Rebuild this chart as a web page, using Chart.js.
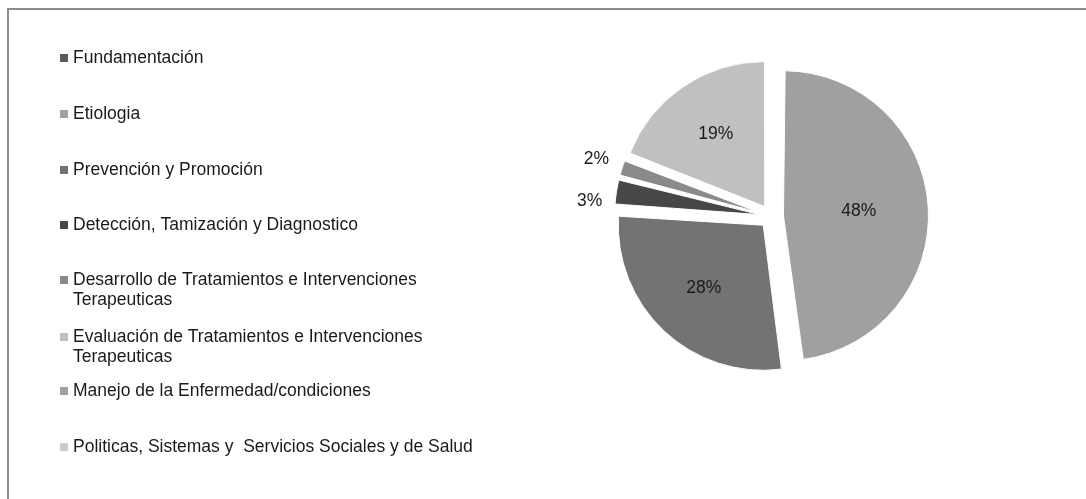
<!DOCTYPE html>
<html>
<head>
<meta charset="utf-8">
<script src="https://cdn.jsdelivr.net/npm/chart.js@4/dist/chart.umd.min.js"></script>
<style>
  html, body { margin: 0; padding: 0; background: #fff; }
  #wrap { position: relative; width: 1086px; height: 499px; }
</style>
</head>
<body>
<div id="wrap"><canvas id="grafico"></canvas></div>
<script>
const categorias = [
    ["Fundamentación"],
    ["Etiologia"],
    ["Prevención y Promoción"],
    ["Detección, Tamización y Diagnostico"],
    ["Desarrollo de Tratamientos e Intervenciones", "Terapeuticas"],
    ["Evaluación de Tratamientos e Intervenciones", "Terapeuticas"],
    ["Manejo de la Enfermedad/condiciones"],
    ["Politicas, Sistemas y  Servicios Sociales y de Salud"]
];
const porcentajes = [0, 48, 28, 3, 2, 19, 0, 0];
const colores = ["#5a5a5a", "#a0a0a0", "#737373", "#474747", "#8a8a8a", "#c0c0c0", "#a0a0a0", "#cbcbcb"];

// posiciones verticales de la leyenda (primera linea de cada entrada)
const leyendaY = [58, 114, 170, 225, 280, 337, 391, 447];
const fuente = "17.5px 'Liberation Sans', Arial, sans-serif";

const marcoYLeyenda = {
    id: "marcoYLeyenda",
    afterDatasetUpdate(chart, args) {
        // chart.js agranda el radio de las porciones separadas; lo dejamos parejo
        args.meta.data.forEach(arc => {
            const o = (arc.options.offset || 0) / 4;
            const fix = 1 - Math.sin(Math.min(Math.PI, arc.circumference || 0));
            arc.outerRadius -= o * fix;
        });
    },
    beforeDraw(chart) {
        const ctx = chart.ctx;
        ctx.save();
        ctx.fillStyle = "#fff";
        ctx.fillRect(0, 0, chart.width, chart.height);
        ctx.strokeStyle = "#8c8c8c";
        ctx.lineWidth = 2;
        ctx.strokeRect(8, 9, 1200, 700);
        ctx.restore();
    },
    afterDraw(chart) {
        const ctx = chart.ctx;
        ctx.save();
        ctx.font = fuente;
        ctx.textBaseline = "middle";
        categorias.forEach((lineas, i) => {
            const y = leyendaY[i];
            ctx.fillStyle = colores[i];
            ctx.fillRect(60, y - 4, 8, 8);
            ctx.fillStyle = "#1a1a1a";
            lineas.forEach((t, j) => {
                ctx.fillText(t, 73, y + j * 20);
            });
        });

        // etiquetas de porcentaje
        const meta = chart.getDatasetMeta(0);
        const ds = chart.data.datasets[0];
        const off = ds.offset / 4; // desplazamiento real que dibuja chart.js
        const radio = meta.controller.outerRadius;
        const etiquetas = [];
        meta.data.forEach((arc, i) => {
            const v = porcentajes[i];
            if (!v) return;
            const p = arc.getProps(["x", "y", "startAngle", "endAngle"], true);
            const mid = (p.startAngle + p.endAngle) / 2;
            const fuera = v < 5;
            const dist = fuera ? radio + off + 27 : off + radio * (v > 40 ? 0.52 : 0.6);
            etiquetas.push({
                texto: v + "%",
                x: p.x + Math.cos(mid) * dist,
                y: p.y + Math.sin(mid) * dist,
                fuera: fuera
            });
        });
        // evitar que las etiquetas de afuera se monten
        const afuera = etiquetas.filter(e => e.fuera).sort((a, b) => a.y - b.y);
        for (let k = 1; k < afuera.length; k++) {
            if (afuera[k].y - afuera[k - 1].y < 42) afuera[k].y = afuera[k - 1].y + 42;
        }
        ctx.fillStyle = "#1a1a1a";
        ctx.textAlign = "center";
        etiquetas.forEach(e => ctx.fillText(e.texto, e.x, e.y));
        ctx.restore();
    }
};

const ctx = document.getElementById("grafico").getContext("2d");
new Chart(ctx, {
    type: "pie",
    data: {
        labels: categorias.map(l => l.join(" ")),
        datasets: [{
            data: porcentajes,
            backgroundColor: colores,
            borderColor: "#fff",
            borderWidth: 1,
            offset: 48
        }]
    },
    options: {
        responsive: true,
        maintainAspectRatio: false,
        animation: false,
        layout: {
            padding: { left: 602, right: 145, top: 47, bottom: 113 }
        },
        plugins: {
            legend: { display: false },
            tooltip: { enabled: false }
        }
    },
    plugins: [marcoYLeyenda]
});
</script>
</body>
</html>
